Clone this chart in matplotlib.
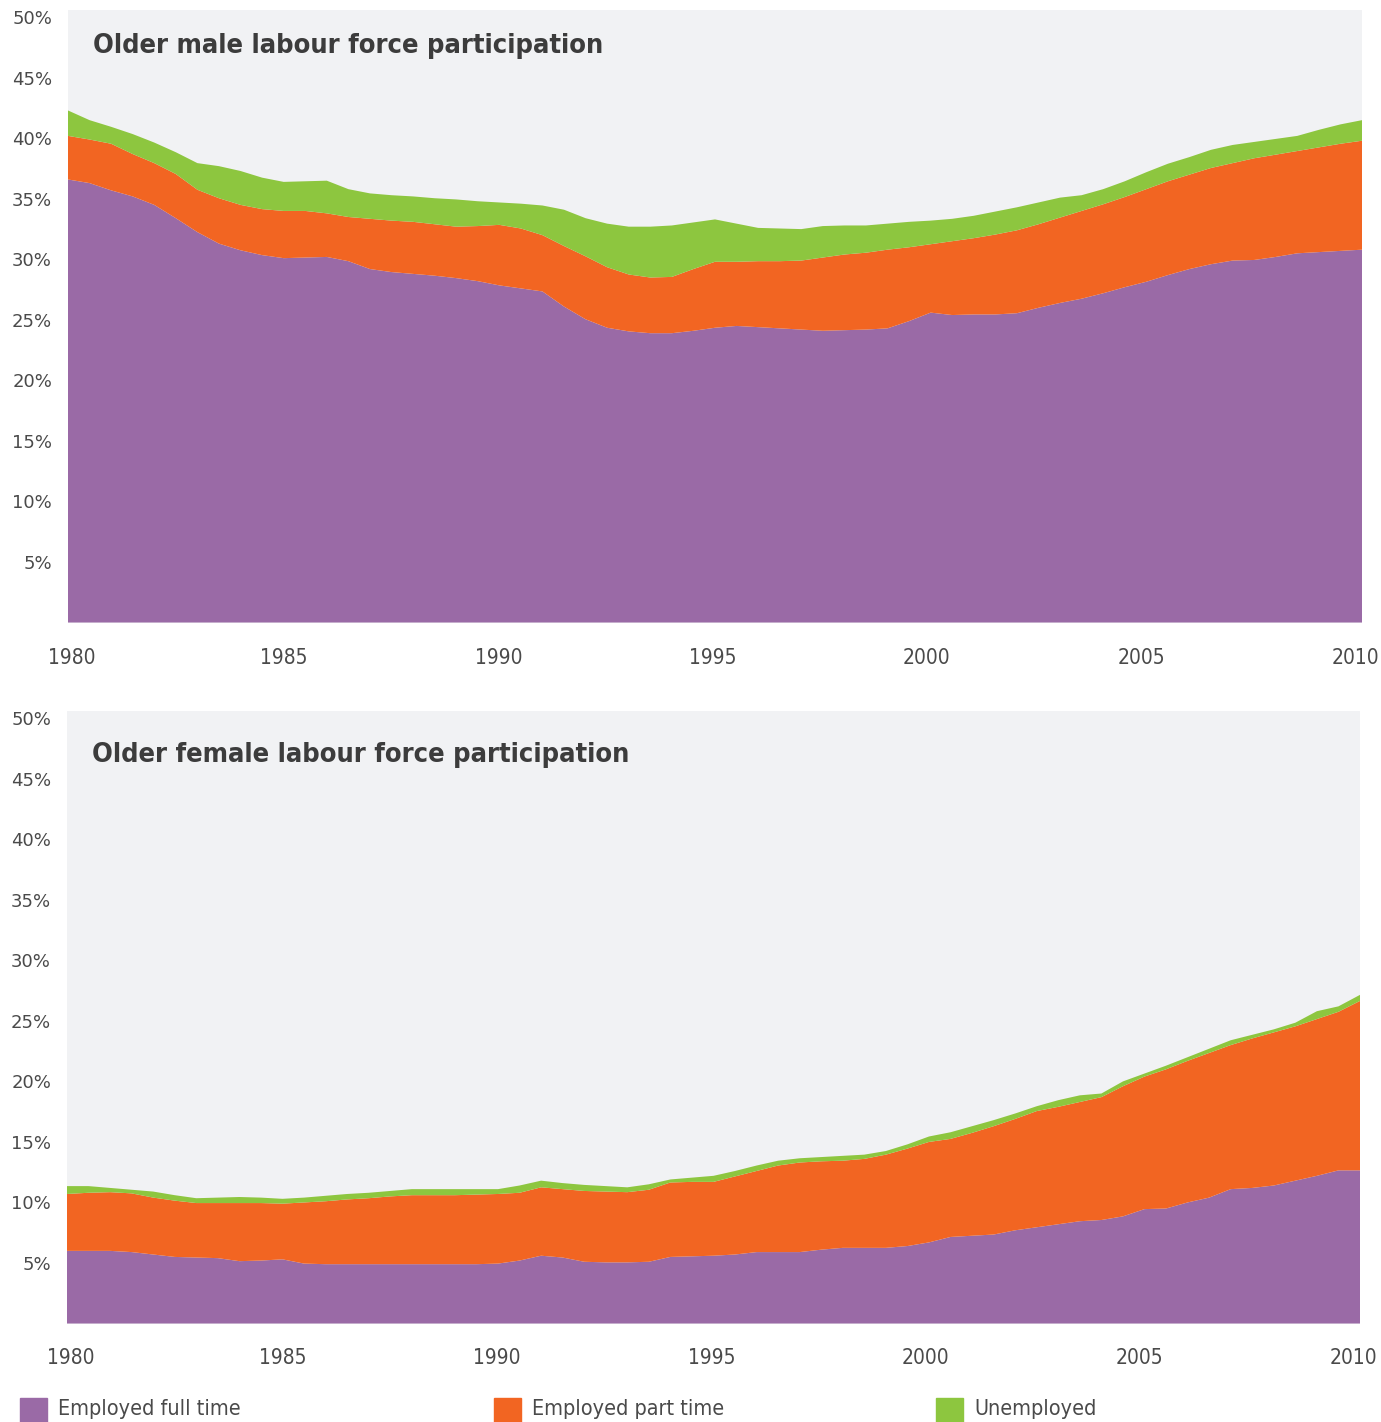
import matplotlib.pyplot as plt
import numpy as np
from matplotlib.patches import Rectangle
from matplotlib.transforms import ScaledTranslation

# half-yearly observations, 1980 - 2010
years = np.arange(1980, 2010.01, 0.5)

# ---- older males (% of population) ----------------------------------------
male_full_time = [
    36.6, 36.3, 35.7, 35.2, 34.5, 33.4, 32.25, 31.3, 30.75, 30.35,
    30.1, 30.15, 30.2, 29.85, 29.2, 28.95, 28.8, 28.65, 28.45, 28.2,
    27.85, 27.6, 27.35, 26.1, 25.05, 24.35, 24.05, 23.9, 23.9, 24.1,
    24.35, 24.5, 24.4, 24.3, 24.2, 24.1, 24.15, 24.2, 24.3, 24.9,
    25.6, 25.4, 25.45, 25.45, 25.55, 26.0, 26.4, 26.75, 27.2, 27.7,
    28.15, 28.7, 29.2, 29.6, 29.9, 29.95, 30.2, 30.5, 30.6, 30.7,
    30.8,
]
male_part_time = [
    3.6, 3.6, 3.85, 3.5, 3.45, 3.65, 3.5, 3.75, 3.75, 3.8,
    3.9, 3.85, 3.6, 3.65, 4.15, 4.25, 4.3, 4.25, 4.25, 4.55,
    5.0, 4.95, 4.65, 5.0, 5.2, 5.0, 4.7, 4.6, 4.65, 5.1,
    5.45, 5.3, 5.45, 5.55, 5.7, 6.05, 6.25, 6.35, 6.5, 6.1,
    5.65, 6.1, 6.3, 6.6, 6.85, 6.9, 7.05, 7.25, 7.35, 7.45,
    7.65, 7.75, 7.8, 7.95, 8.05, 8.4, 8.45, 8.45, 8.65, 8.85,
    9.0,
]
male_unemployed = [
    2.1, 1.6, 1.4, 1.65, 1.7, 1.8, 2.2, 2.65, 2.8, 2.6,
    2.4, 2.45, 2.7, 2.3, 2.1, 2.1, 2.1, 2.15, 2.25, 2.05,
    1.85, 2.05, 2.45, 3.0, 3.15, 3.6, 3.95, 4.2, 4.25, 3.85,
    3.5, 3.15, 2.75, 2.7, 2.6, 2.6, 2.4, 2.25, 2.15, 2.1,
    1.95, 1.85, 1.85, 1.9, 1.9, 1.8, 1.65, 1.3, 1.25, 1.3,
    1.4, 1.45, 1.45, 1.5, 1.5, 1.35, 1.3, 1.25, 1.45, 1.6,
    1.7,
]

# ---- older females (% of population) --------------------------------------
female_full_time = [
    6.0, 6.0, 6.0, 5.9, 5.7, 5.5, 5.45, 5.4, 5.15, 5.2,
    5.3, 4.95, 4.9, 4.9, 4.9, 4.9, 4.9, 4.9, 4.9, 4.9,
    4.95, 5.2, 5.6, 5.45, 5.1, 5.05, 5.05, 5.1, 5.5, 5.55,
    5.6, 5.7, 5.9, 5.9, 5.9, 6.1, 6.25, 6.25, 6.25, 6.4,
    6.7, 7.15, 7.25, 7.35, 7.7, 7.95, 8.2, 8.45, 8.55, 8.85,
    9.45, 9.5, 10.0, 10.4, 11.1, 11.2, 11.4, 11.8, 12.2, 12.65,
    12.65,
]
female_part_time = [
    4.7, 4.8, 4.85, 4.85, 4.7, 4.65, 4.5, 4.55, 4.8, 4.75,
    4.6, 5.05, 5.2, 5.35, 5.45, 5.6, 5.7, 5.7, 5.7, 5.75,
    5.75, 5.6, 5.65, 5.65, 5.85, 5.85, 5.8, 5.95, 6.15, 6.15,
    6.1, 6.45, 6.7, 7.15, 7.4, 7.3, 7.2, 7.35, 7.7, 8.05,
    8.3, 8.1, 8.5, 8.95, 9.2, 9.6, 9.7, 9.85, 10.15, 10.75,
    10.95, 11.5, 11.7, 11.95, 11.9, 12.35, 12.65, 12.75, 12.95, 13.1,
    14.0,
]
female_unemployed = [
    0.65, 0.55, 0.35, 0.3, 0.5, 0.45, 0.4, 0.45, 0.5, 0.45,
    0.4, 0.4, 0.45, 0.45, 0.45, 0.45, 0.5, 0.5, 0.5, 0.45,
    0.4, 0.6, 0.55, 0.5, 0.5, 0.45, 0.4, 0.45, 0.25, 0.35,
    0.5, 0.45, 0.45, 0.4, 0.35, 0.35, 0.4, 0.35, 0.3, 0.35,
    0.45, 0.55, 0.55, 0.5, 0.45, 0.4, 0.55, 0.55, 0.3, 0.4,
    0.25, 0.3, 0.3, 0.35, 0.4, 0.3, 0.25, 0.3, 0.65, 0.45,
    0.5,
]

series_labels = ["Employed full time", "Employed part time", "Unemployed"]
series_colors = ["#9A6AA6", "#F26522", "#8DC63F"]
panel_titles = ["Older male labour force participation",
                "Older female labour force participation"]
y_ticks = [5, 10, 15, 20, 25, 30, 35, 40, 45, 50]
x_ticks = [1980, 1985, 1990, 1995, 2000, 2005, 2010]

BG = "#F1F2F4"
TEXT = "#4A4A4A"
plt.rcParams["font.family"] = ["DejaVu Sans"]

W, H = 1381, 1422
fig = plt.figure(figsize=(W / 100, H / 100), dpi=100)

# axes boxes in pixels: left, top, right, bottom ; title offset from top
boxes = [(68, 10, 1362, 622.5, 36), (67, 711, 1360, 1323.5, 44)]
panels = [
    (male_full_time, male_part_time, male_unemployed),
    (female_full_time, female_part_time, female_unemployed),
]
# small nudges (px) so year labels sit where the original put them
x_label_shift = [4, 0, -1, -2, -4, -5, -7]

for (l, t, r, b, t_off), data, title in zip(boxes, panels, panel_titles):
    ax = fig.add_axes([l / W, 1 - b / H, (r - l) / W, (b - t) / H])
    ax.set_facecolor(BG)
    ax.stackplot(years, *data, colors=series_colors, linewidth=0)
    ax.set_xlim(1980, 2010)
    ax.set_ylim(0, 50.6)
    ax.set_yticks(y_ticks)
    ax.set_yticklabels([f"{v}%" for v in y_ticks])
    ax.set_xticks(x_ticks)
    ax.tick_params(axis="both", length=0, labelcolor=TEXT)
    ax.tick_params(axis="y", pad=11.5, labelsize=13)
    ax.tick_params(axis="x", pad=18, labelsize=15)
    for lab, dx in zip(ax.get_xticklabels(), x_label_shift):
        lab.set_fontstretch("condensed")
        lab.set_transform(lab.get_transform() +
                          ScaledTranslation(dx / 100, 0, fig.dpi_scale_trans))
    for s in ax.spines.values():
        s.set_visible(False)
    ax.text(25 / (r - l), 1 - t_off / (b - t), title, transform=ax.transAxes,
            fontsize=19.5, fontweight="bold", color="#3C3C3C", va="center",
            ha="left", fontstretch="condensed")

# legend along the bottom
legend_x = [20, 494, 936]
for x0, lab, col in zip(legend_x, series_labels, series_colors):
    fig.patches.append(Rectangle((x0 / W, 1 - 1422 / H), 27 / W, 24 / H,
                                 transform=fig.transFigure, color=col))
    fig.text((x0 + 38) / W, 1 - 1409 / H, lab, fontsize=15.5, color=TEXT,
             va="center", ha="left", fontstretch="condensed")

fig.savefig("out.png", dpi=100)
